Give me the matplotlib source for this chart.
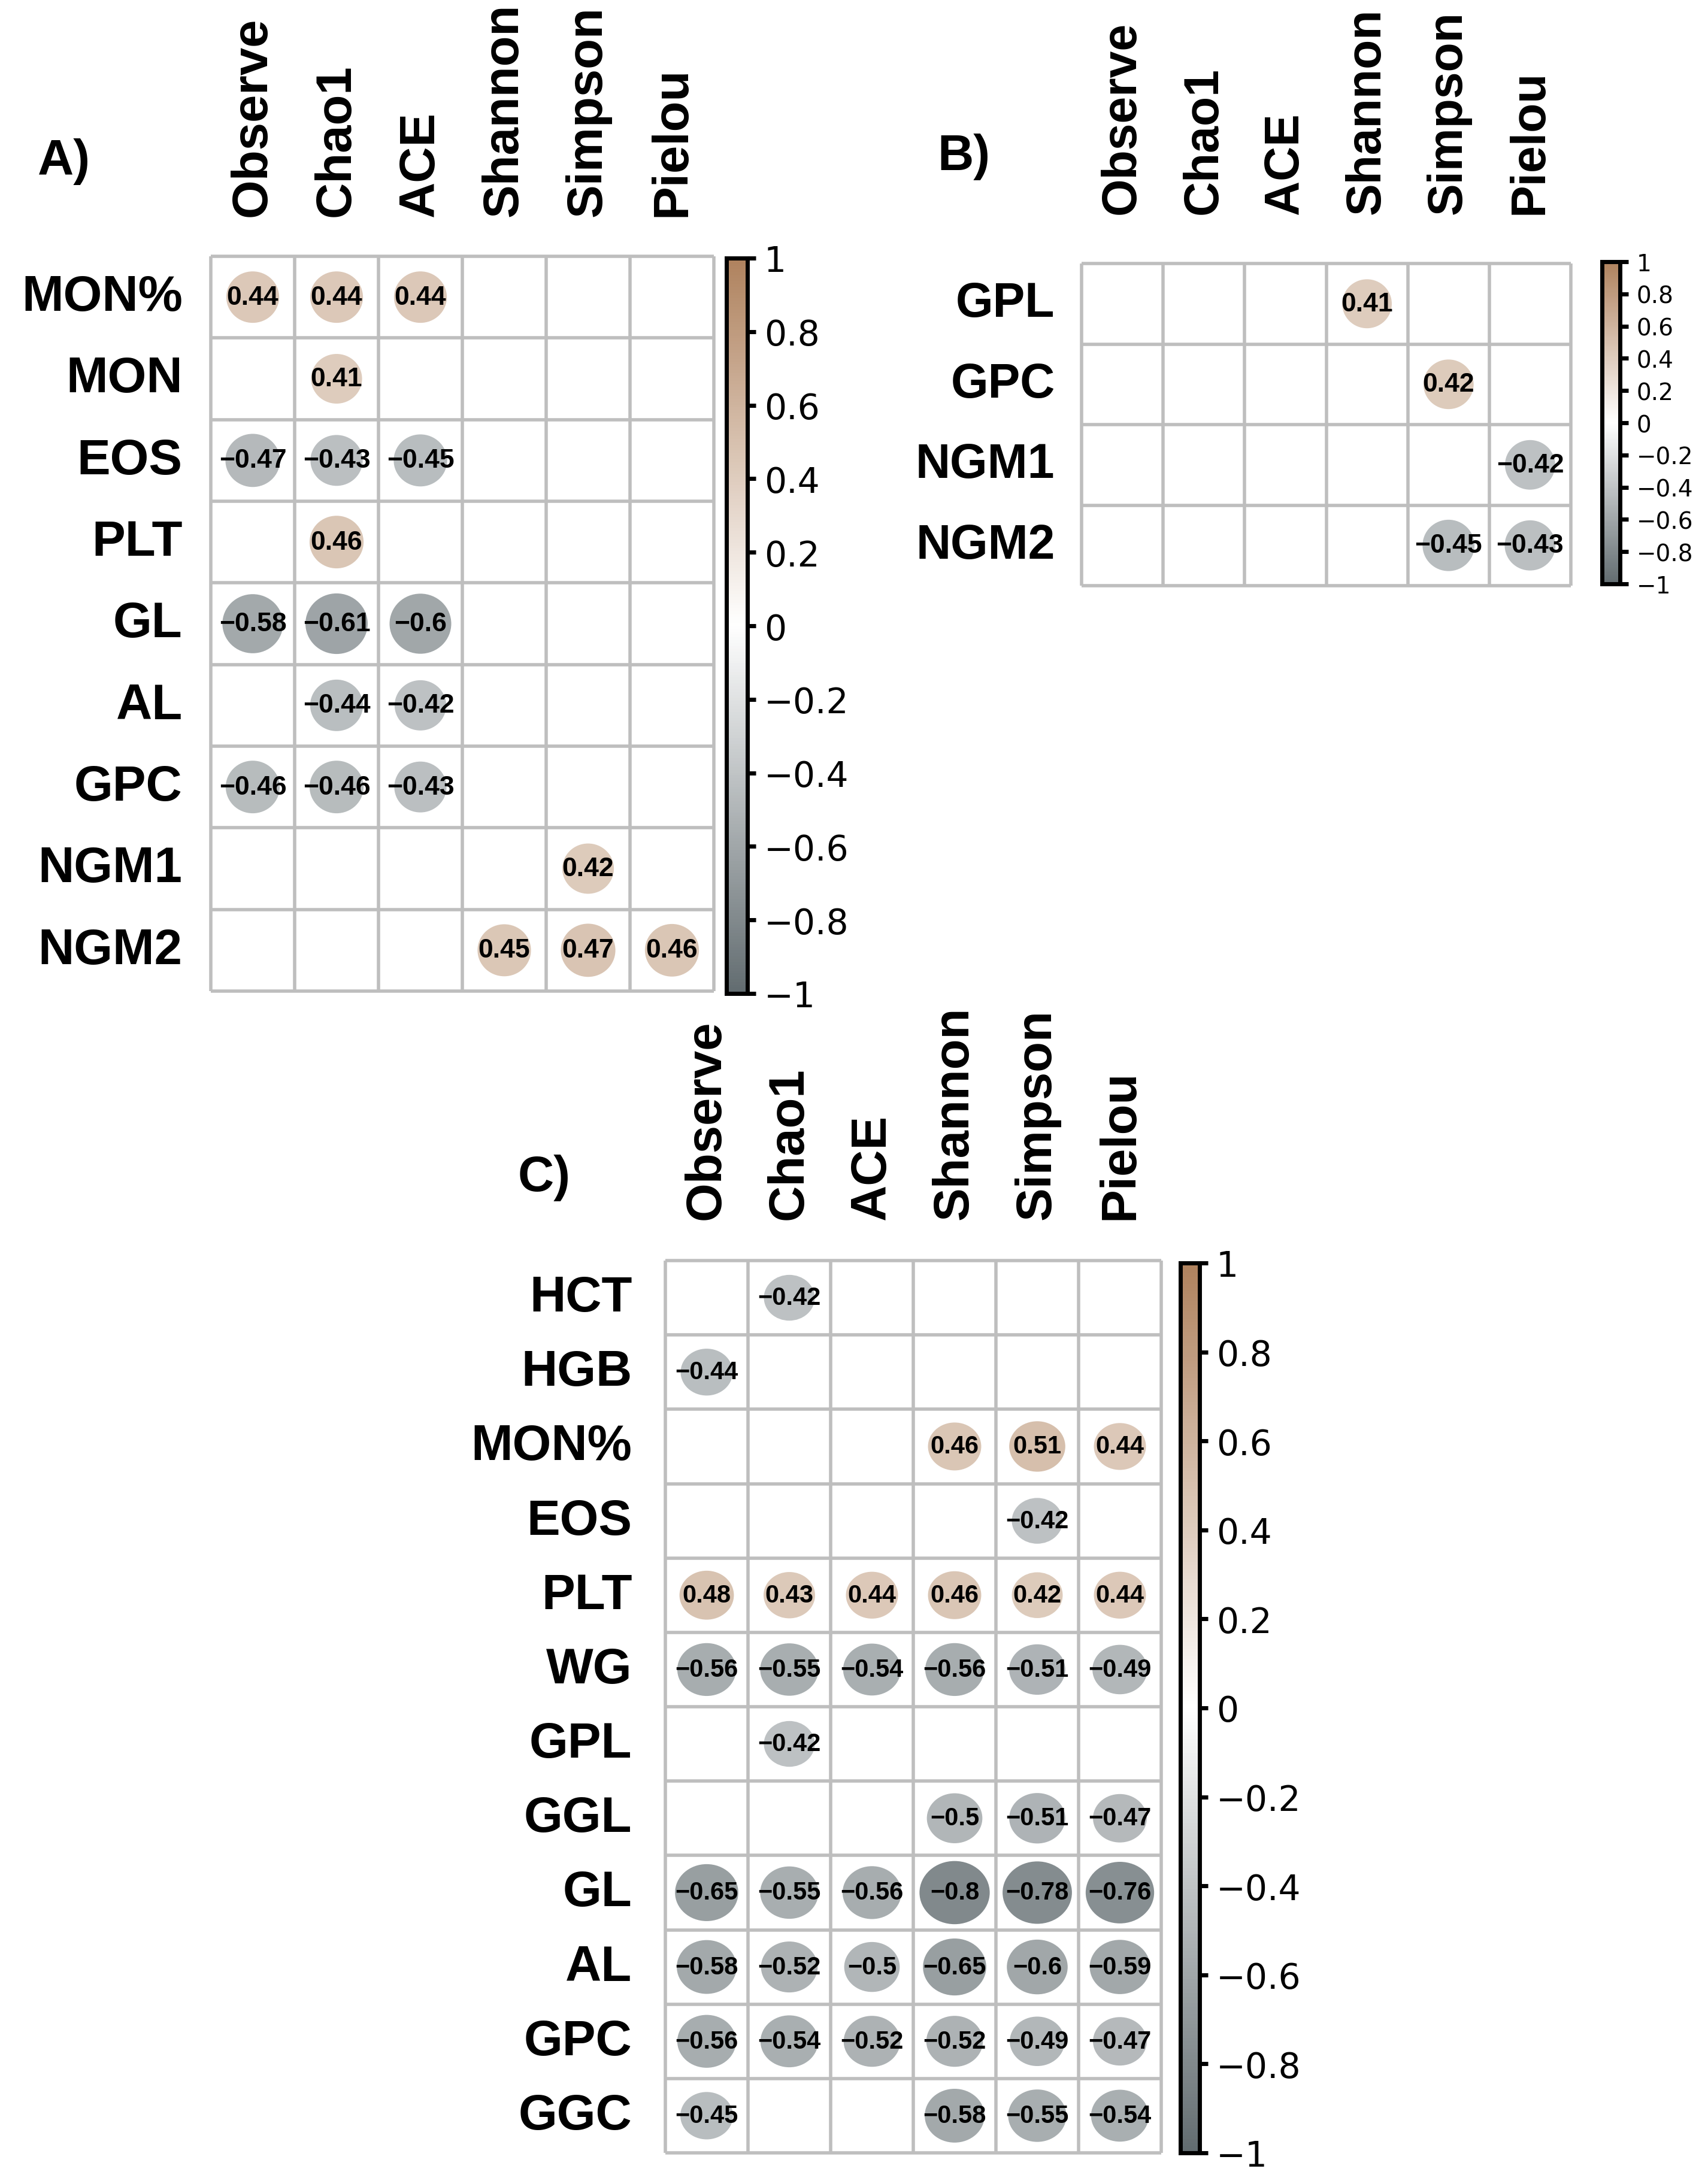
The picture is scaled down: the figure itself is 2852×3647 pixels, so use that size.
import numpy as np
import matplotlib
matplotlib.use("Agg")
import matplotlib.pyplot as plt
from matplotlib.colors import LinearSegmentedColormap, Normalize
from matplotlib.cm import ScalarMappable
from matplotlib.patches import Ellipse

plt.rcParams['font.family'] = ['Liberation Sans', 'DejaVu Sans']

nan = np.nan

# alpha diversity indices (columns, same for all panels)
indices = ["Observe", "Chao1", "ACE", "Shannon", "Simpson", "Pielou"]

# panel A
rows_a = ["MON%", "MON", "EOS", "PLT", "GL", "AL", "GPC", "NGM1", "NGM2"]
corr_a = [
    [0.44, 0.44, 0.44, nan, nan, nan],
    [nan, 0.41, nan, nan, nan, nan],
    [-0.47, -0.43, -0.45, nan, nan, nan],
    [nan, 0.46, nan, nan, nan, nan],
    [-0.58, -0.61, -0.6, nan, nan, nan],
    [nan, -0.44, -0.42, nan, nan, nan],
    [-0.46, -0.46, -0.43, nan, nan, nan],
    [nan, nan, nan, nan, 0.42, nan],
    [nan, nan, nan, 0.45, 0.47, 0.46],
]

# panel B
rows_b = ["GPL", "GPC", "NGM1", "NGM2"]
corr_b = [
    [nan, nan, nan, 0.41, nan, nan],
    [nan, nan, nan, nan, 0.42, nan],
    [nan, nan, nan, nan, nan, -0.42],
    [nan, nan, nan, nan, -0.45, -0.43],
]

# panel C
rows_c = ["HCT", "HGB", "MON%", "EOS", "PLT", "WG", "GPL", "GGL", "GL", "AL", "GPC", "GGC"]
corr_c = [
    [nan, -0.42, nan, nan, nan, nan],
    [-0.44, nan, nan, nan, nan, nan],
    [nan, nan, nan, 0.46, 0.51, 0.44],
    [nan, nan, nan, nan, -0.42, nan],
    [0.48, 0.43, 0.44, 0.46, 0.42, 0.44],
    [-0.56, -0.55, -0.54, -0.56, -0.51, -0.49],
    [nan, -0.42, nan, nan, nan, nan],
    [nan, nan, nan, -0.5, -0.51, -0.47],
    [-0.65, -0.55, -0.56, -0.8, -0.78, -0.76],
    [-0.58, -0.52, -0.5, -0.65, -0.6, -0.59],
    [-0.56, -0.54, -0.52, -0.52, -0.49, -0.47],
    [-0.45, nan, nan, -0.58, -0.55, -0.54],
]

cb_ticks = [-1, -0.8, -0.6, -0.4, -0.2, 0, 0.2, 0.4, 0.6, 0.8, 1]

cmap = LinearSegmentedColormap.from_list("greybrown", ["#626C70", "#FFFFFF", "#AF825E"])
norm = Normalize(-1, 1)

W, H = 2852, 3648
DPI = 200
fig = plt.figure(figsize=(W / DPI, H / DPI), dpi=DPI)


def box(x0, y0, x1, y1):
    # pixel box (top-left origin) -> figure fraction rect
    return [x0 / W, 1 - y1 / H, (x1 - x0) / W, (y1 - y0) / H]


def fmt(v):
    return "{:g}".format(round(v, 2)).replace("-", "\u2212")


def corr_panel(rect, cbrect, rows, data, num_size, row_pad, col_pad,
               cb_size, lab_size=30):
    data = np.array(data, dtype=float)
    nr, nc = data.shape
    ax = fig.add_axes(rect)
    ax.set_xlim(-0.5, nc - 0.5)
    ax.set_ylim(nr - 0.5, -0.5)
    ax.axis("off")

    ax.hlines(np.arange(nr + 1) - 0.5, -0.5, nc - 0.5, color="#BEBEBE",
              lw=2.0, clip_on=False)
    ax.vlines(np.arange(nc + 1) - 0.5, -0.5, nr - 0.5, color="#BEBEBE",
              lw=2.0, clip_on=False)

    for i in range(nr):
        for j in range(nc):
            r = data[i, j]
            if np.isnan(r):
                continue
            d = 0.95 * np.sqrt(abs(r))
            ax.add_patch(Ellipse((j, i), d, d, color=cmap(norm(r)), lw=0))
            ax.text(j, i, fmt(r), ha="center", va="center",
                    fontsize=num_size, weight="bold", color="black")

    for i, name in enumerate(rows):
        ax.annotate(name, xy=(0, i), xycoords=("axes fraction", "data"),
                    xytext=(-row_pad, 0), textcoords="offset points",
                    ha="right", va="center", fontsize=lab_size, weight="bold")
    for j, name in enumerate(indices):
        ax.annotate(name, xy=(j, 1), xycoords=("data", "axes fraction"),
                    xytext=(0, col_pad), textcoords="offset points",
                    rotation=90, ha="center", va="bottom",
                    fontsize=lab_size, weight="bold")

    cax = fig.add_axes(cbrect)
    cb = fig.colorbar(ScalarMappable(norm=norm, cmap=cmap), cax=cax,
                      ticks=cb_ticks)
    cb.ax.set_yticklabels([fmt(t) for t in cb_ticks])
    cb.outline.set_linewidth(2.5)
    cb.ax.tick_params(length=5, width=2.5, pad=5, labelsize=cb_size)
    for t in cb.ax.get_yticklabels():
        t.set_fontfamily("DejaVu Sans")
    return ax


corr_panel(box(352, 429, 1192, 1656), box(1213, 432, 1248, 1660),
           rows_a, corr_a, num_size=16, row_pad=17, col_pad=24, cb_size=21)
corr_panel(box(1806, 441, 2623, 979), box(2675, 438, 2705, 976),
           rows_b, corr_b, num_size=16, row_pad=16, col_pad=30, cb_size=14,
           lab_size=29)
corr_panel(box(1111, 2106, 1939, 3596), box(1971, 2110, 2003, 3596),
           rows_c, corr_c, num_size=15, row_pad=20, col_pad=25, cb_size=21)

fig.text(107 / W, 1 - 270 / H, "A)", ha="center", va="center",
         fontsize=30, weight="bold")
fig.text(1609 / W, 1 - 262 / H, "B)", ha="center", va="center",
         fontsize=30, weight="bold")
fig.text(909 / W, 1 - 1967 / H, "C)", ha="center", va="center",
         fontsize=30, weight="bold")

fig.savefig("out.png", dpi=DPI)
